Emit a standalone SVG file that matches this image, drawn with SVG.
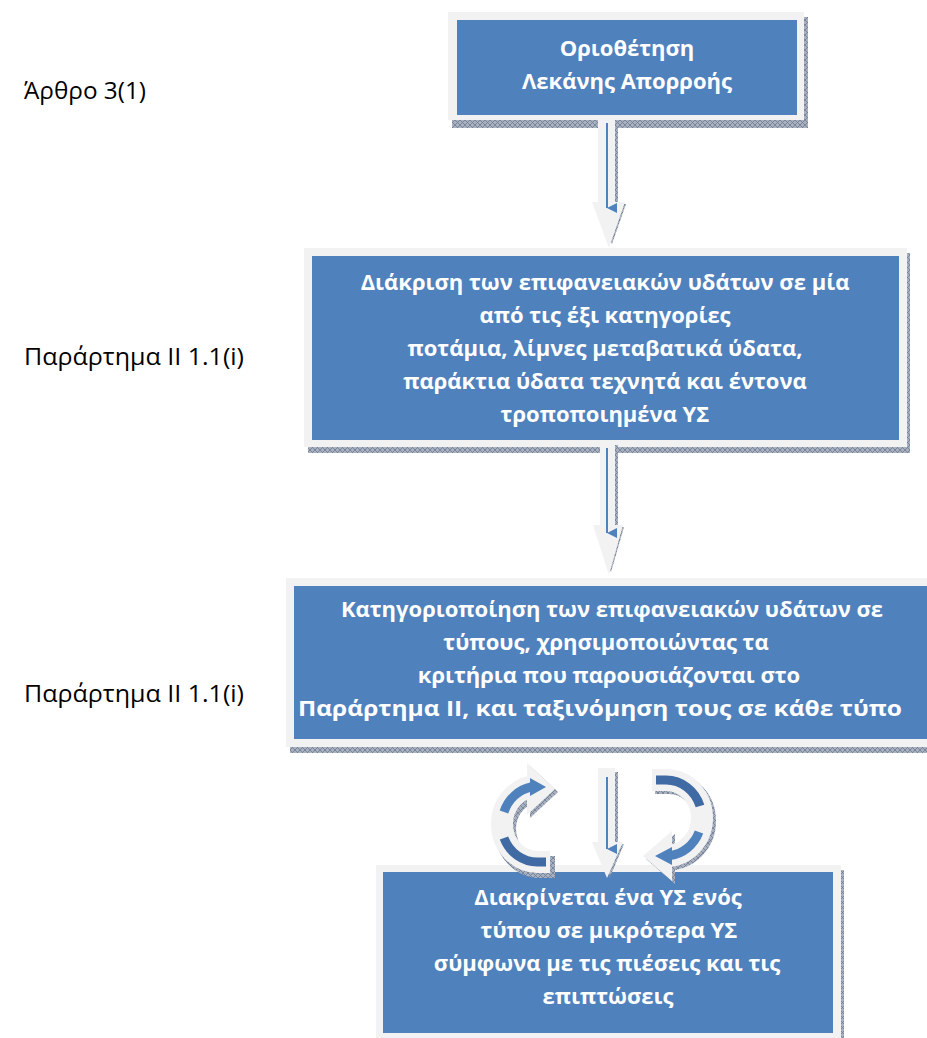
<svg xmlns="http://www.w3.org/2000/svg" width="927" height="1038" viewBox="0 0 927 1038">
<defs>
<pattern id="hatch" width="5" height="5" patternUnits="userSpaceOnUse">
<rect width="5" height="5" fill="#a9b1c0"/>
<path d="M0 0 L5 5 M5 0 L0 5" stroke="#6f7c92" stroke-width="0.8"/>
</pattern>
<marker id="bh" viewBox="0 0 10 10" refX="5" refY="10" markerWidth="10" markerHeight="10" markerUnits="userSpaceOnUse" orient="auto-start-reverse">
<path d="M0 0 L10 0 L5 10 Z" fill="#4f81bd"/>
</marker>
<style>
.outer{fill:#f2f2f2}
.blue{fill:#4f81bd}
.shadow{fill:url(#hatch)}
.bt{font-family:"Open Sans","Noto Sans",sans-serif;font-weight:bold;font-size:22px;fill:#ffffff;text-anchor:middle}
.lbl{font-family:"Open Sans","Noto Sans",sans-serif;font-size:24px;fill:#000000}
.ag{fill:#f2f2f2}
.bl{stroke:#4f81bd;stroke-width:2;fill:none}
</style>
</defs>
<rect width="927" height="1038" fill="#ffffff"/>

<g id="labels">
<text class="lbl" x="24" y="99" textLength="122" lengthAdjust="spacingAndGlyphs">Άρθρο 3(1)</text>
<text class="lbl" x="24" y="365" textLength="220" lengthAdjust="spacingAndGlyphs">Παράρτημα ΙΙ 1.1(i)</text>
<text class="lbl" x="24" y="702" textLength="220" lengthAdjust="spacingAndGlyphs">Παράρτημα ΙΙ 1.1(i)</text>
</g>

<g id="node1">
<rect class="shadow" x="452" y="17" width="356" height="111"/>
<rect class="outer" x="448" y="12" width="356" height="108"/>
<rect class="blue" x="457" y="20" width="340" height="95"/>
<text class="bt" x="627" y="56">Οριοθέτηση</text>
<text class="bt" x="627" y="89">Λεκάνης Απορροής</text>
</g>

<g id="node2">
<rect class="shadow" x="308" y="253" width="602" height="200"/>
<rect class="outer" x="304" y="248" width="603" height="199"/>
<rect class="blue" x="312" y="256" width="587" height="184"/>
<text class="bt" x="605" y="290">Διάκριση των επιφανειακών υδάτων σε μία</text>
<text class="bt" x="605" y="323">από τις έξι κατηγορίες</text>
<text class="bt" x="605" y="356">ποτάμια, λίμνες μεταβατικά ύδατα,</text>
<text class="bt" x="605" y="389">παράκτια ύδατα τεχνητά και έντονα</text>
<text class="bt" x="605" y="422">τροποποιημένα ΥΣ</text>
</g>

<g id="node3">
<rect class="shadow" x="290" y="583" width="650" height="170"/>
<rect class="outer" x="286" y="578" width="650" height="169"/>
<rect class="blue" x="294" y="586" width="640" height="153"/>
<text class="bt" x="612" y="617">Κατηγοριοποίηση των επιφανειακών υδάτων σε</text>
<text class="bt" x="606" y="650">τύπους, χρησιμοποιώντας τα</text>
<text class="bt" x="609" y="683">κριτήρια που παρουσιάζονται στο</text>
<text class="bt" x="600" y="716" textLength="604" lengthAdjust="spacingAndGlyphs">Παράρτημα ΙΙ, και ταξινόμηση τους σε κάθε τύπο</text>
</g>

<g id="node4">
<rect class="shadow" x="380" y="870" width="464" height="170"/>
<rect class="outer" x="376" y="865" width="465" height="175"/>
<rect class="blue" x="383" y="872" width="450" height="161"/>
<text class="bt" x="608" y="905">Διακρίνεται ένα ΥΣ ενός</text>
<text class="bt" x="609" y="938">τύπου σε μικρότερα ΥΣ</text>
<text class="bt" x="607" y="971">σύμφωνα με τις πιέσεις και τις</text>
<text class="bt" x="608" y="1004">επιπτώσεις</text>
</g>

<g id="connectors">
<g id="arrow1">
<rect class="shadow" x="615" y="123" width="3" height="80"/>
<path class="shadow" d="M622 204 L626 204 L612 244 L610 240 Z"/>
<path class="ag" d="M598 115 L615 115 L615 202 L625 202 L609 248 L592 202 L598 202 Z"/>
<line class="bl" x1="607" y1="123" x2="607" y2="208" marker-end="url(#bh)"/>
</g>
<g id="arrow2">
<rect class="shadow" x="615" y="445" width="3" height="80"/>
<path class="shadow" d="M620 527 L624 527 L611 572 L609 568 Z"/>
<path class="ag" d="M600 440 L615 440 L615 525 L623 525 L609 575 L593 525 L600 525 Z"/>
<line class="bl" x1="607" y1="448" x2="607" y2="533" marker-end="url(#bh)"/>
</g>
<g id="arrow3">
<rect class="shadow" x="615" y="772" width="3" height="70"/>
<path class="shadow" d="M620 844 L624 844 L610 877 L608 873 Z"/>
<path class="ag" d="M598 768 L615 768 L615 842 L623 842 L607 878 L592 842 L598 842 Z"/>
<line class="bl" x1="607" y1="777" x2="607" y2="849" marker-end="url(#bh)"/>
</g>
<g id="cycle-left">
<path d="M552 864 L538 864 A 36 38 0 0 1 538 788 L530 788" fill="none" stroke="url(#hatch)" stroke-width="22" transform="translate(3,3)"/>
<path d="M530 766 L558 792 L530 818 Z" class="shadow"/>
<path d="M550 862 L538 862 A 36 38 0 0 1 538 786 L530 786" fill="none" stroke="#f2f2f2" stroke-width="22"/>
<path d="M527 763 L555 789 L527 815 Z" class="ag"/>
<path d="M504 812 A 36 38 0 0 1 531 787" fill="none" stroke="#4f81bd" stroke-width="9"/>
<path d="M530 778 L546 787 L530 796 Z" fill="#4f81bd"/>
<path d="M504 838 A 36 38 0 0 0 538 862 L546 862" fill="none" stroke="#3f6aa3" stroke-width="9"/>
</g>
<g id="cycle-right">
<path d="M652 780 L666 780 A 36 38 0 0 1 666 856 L674 856" fill="none" stroke="url(#hatch)" stroke-width="22" transform="translate(3,3)"/>
<path d="M675 834 L646 859 L675 884 Z" class="shadow"/>
<path d="M652 780 L666 780 A 36 38 0 0 1 666 856 L672 856" fill="none" stroke="#f2f2f2" stroke-width="22"/>
<path d="M672 831 L643 856 L672 881 Z" class="ag"/>
<path d="M656 780 L666 780 A 36 38 0 0 1 700 806" fill="none" stroke="#3f6aa3" stroke-width="9"/>
<path d="M699 832 A 36 38 0 0 1 670 855.5" fill="none" stroke="#4f81bd" stroke-width="9"/>
<path d="M672 847 L655 856 L672 865 Z" fill="#4f81bd"/>
</g>
</g>
</svg>
